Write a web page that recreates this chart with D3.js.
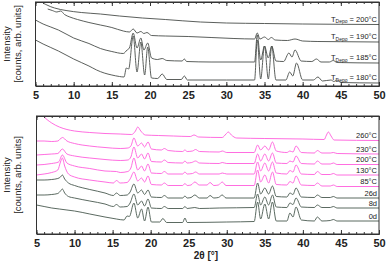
<!DOCTYPE html>
<html>
<head>
<meta charset="utf-8">
<script src="https://cdn.jsdelivr.net/npm/d3@7"></script>
<style>
  body { margin: 0; background: #fff; }
  svg { display: block; font-family: "Liberation Sans", Arial, sans-serif; }
</style>
</head>
<body>
<svg id="chart" width="386" height="266"></svg>
<script>
// Axis ticks (2θ in degrees)
const majorTicks = [5, 10, 15, 20, 25, 30, 35, 40, 45, 50];
const minorTicks = d3.range(5, 51, 1);

// Top panel: deposition temperature series, [2θ, intensity]
const topLabels = ["200°C", "190°C", "185°C", "180°C"];
const depo200 = [[5.5,90],[5.9,84],[6.5,81],[7.5,78],[9,75.5],[11,73.5],[13.5,72],[16,70],[19,68],[22,66.5],[26.6,64],[30,63],[35,62.5],[40,62],[45,61.7],[50,61.5]];
const depo190 = [[6.6,77],[7.2,75.5],[7.8,74],[8.3,75],[8.8,71.5],[9.5,69],[10.5,66.5],[12,63.5],[13.5,61],[15,58.5],[16.5,55],[17.3,54],[17.8,57],[18.3,53],[18.8,54.5],[19.2,52.5],[19.6,53.5],[20.2,50.5],[22,50],[25,49.5],[28,48.5],[31,47.5],[33.7,47],[34.05,53],[34.4,47],[35.0,49],[35.5,46.5],[35.9,48.5],[36.4,46],[38,45.5],[39,47],[40,45],[42,44.5],[45,44.3],[50,44]];
const depo185 = [[5,66],[6,62],[7,59],[8,56],[10,48],[12,42.5],[13.5,37.5],[15,34.5],[16.5,32.5],[17.0,36],[17.3,38],[17.8,53],[18.3,38],[18.8,48],[19.2,36],[19.7,43],[20.2,28],[21,26.5],[21.6,27.5],[22.2,25.5],[24.2,25],[24.5,27],[24.8,24.5],[28,24],[33.7,24],[34.05,51],[34.5,26],[35.0,40],[35.5,28],[35.95,40],[36.5,25],[37.5,24.5],[38.2,33],[38.6,29],[39.0,36],[39.8,25],[41.2,24.5],[41.8,27],[42.4,24],[43.5,24],[44,25.5],[44.5,23.5],[50,23]];
const depo180 = [[5,46],[6,42],[7,38.5],[8,35],[9,31],[10,27],[11,23.5],[12,20],[13,16],[14,13],[15,11],[16,9.5],[16.6,9],[16.9,18],[17.2,17],[17.8,50],[18.3,14],[18.8,44],[19.3,11],[19.7,39],[20.2,8],[21,7.5],[21.6,12],[22.2,6.5],[24.1,6.5],[24.5,10],[24.9,6],[30,6],[33.7,6],[34.05,46],[34.5,7],[35.0,40],[35.5,7],[35.95,40],[36.5,6],[37.8,6],[38.3,14],[38.7,10],[39.2,23],[40,6],[41.4,6],[42,9],[42.6,5],[43.7,6],[44.1,4.5],[44.5,6],[45,3.5],[50,3]];
const topSeries = [depo200, depo190, depo185, depo180];

// Bottom panel: annealing / ageing series, [2θ, intensity]
const bottomLabels = ["260°C", "230°C", "200°C", "130°C", "85°C", "26d", "8d", "0d"];
const anneal260 = [[5,126],[6,117],[7,111],[8,107],[9,104.5],[10,103],[12,101.5],[14,100.5],[16,100],[17.5,99.5],[18.0,103],[18.3,107],[18.7,103],[19.3,99],[21,98.5],[23,98],[25.2,97.5],[25.7,99],[26.3,97],[29.4,96.5],[29.9,100],[30.2,102],[30.6,99],[31.3,96],[35,95.5],[40,95],[42.8,94.5],[43.1,99],[43.35,102],[43.7,98],[44.1,94],[50,93.5]];
const anneal230 = [[5,93],[6,93],[7,92.5],[7.8,93],[8.4,96.5],[9,93],[10,90.5],[12,88],[14,86.5],[16,85.5],[17.0,86],[17.4,88],[17.8,96],[18.3,88],[18.8,91],[19.2,87],[19.65,92],[20.1,85],[21.4,84],[21.8,85.5],[22.3,83.5],[24.2,82.5],[24.5,84],[24.8,82.5],[25.5,83],[25.9,84.5],[26.4,82.5],[29,82],[29.4,83],[30,81.5],[33.6,81.5],[34.05,89],[34.45,84],[35.0,88],[35.5,84],[36.0,92],[36.5,83],[37.9,81.5],[38.3,83],[38.7,82],[39.1,88],[39.8,81.5],[41.5,81],[41.9,83.5],[42.5,81],[43.6,81],[44,81.5],[44.5,80.5],[50,80]];
const anneal200 = [[5,79],[6,79.5],[7,80],[7.8,80.5],[8.4,85],[9,80],[10,78],[12,76],[14,74.5],[16,73.5],[17.0,74],[17.4,77],[17.8,87],[18.3,76],[18.8,80],[19.2,75],[19.65,81],[20.1,72.5],[21.4,72],[21.8,74],[22.3,71.5],[24.2,71],[24.5,73],[24.8,71],[25.4,71.5],[25.9,73],[26.4,71],[29,70.5],[29.4,71.5],[30,70.5],[33.6,70.5],[34.05,80],[34.45,73],[35.0,80],[35.5,73],[36.0,81],[36.5,71],[37.9,70.5],[38.3,73],[38.7,72],[39.1,78],[39.8,70.5],[41.5,70],[41.9,73],[42.5,70],[43.6,70],[44,71],[44.5,69.5],[50,69.5]];
const anneal130 = [[5,69],[6,69.5],[7,70.5],[7.9,72],[8.4,79],[9,71],[10,68],[12,65.5],[14,63],[15.5,62.5],[16,61.5],[17.0,62.5],[17.4,66],[17.8,76],[18.3,64],[18.8,68],[19.2,63],[19.65,70],[20.1,61],[21.4,60.5],[21.8,62.5],[22.3,60],[24.2,60],[24.5,62],[24.8,60],[25.5,60.5],[25.9,62],[26.4,60],[29,60],[29.4,61],[30,60],[33.6,60],[34.05,72],[34.45,63],[35.0,71],[35.5,63],[36.0,72],[36.5,61],[37.9,60],[38.3,63.5],[38.7,62],[39.1,69],[39.8,60],[41.5,59.5],[41.9,62.5],[42.5,59.5],[43.6,59.5],[44,60.5],[44.5,59],[50,59]];
const anneal85 = [[5,59],[6,60],[7,61.5],[7.8,64],[8.15,72],[8.4,76],[8.7,68],[9.2,60],[10,57],[12,54],[14,52],[15.1,51],[15.5,53.5],[16,51],[16.9,51.5],[17.3,55],[17.8,62],[18.3,53],[18.8,56],[19.2,52],[19.65,58],[20.1,49.5],[21.4,49],[21.8,51],[22.3,48.5],[24.2,48.5],[24.5,50.5],[24.8,48.5],[25.3,49],[25.8,52],[26.4,49],[27.4,49],[27.8,51.5],[28.3,48.5],[28.9,49],[29.4,52],[29.9,48.5],[33.6,48.5],[34.05,64],[34.45,52],[35.0,59],[35.5,51],[36.0,62],[36.5,49.5],[37.9,49],[38.3,52.5],[38.7,51],[39.1,58],[39.8,49],[41.5,48.5],[41.9,51],[42.5,48],[43.6,48],[44,49],[44.5,47.5],[50,47.5]];
const age26 = [[5,54],[6,54],[7,54.5],[7.8,55.5],[8.15,57],[8.4,59],[8.7,55],[9.2,51],[10,48.5],[12,44.5],[14,41],[15.1,38.5],[15.5,41],[16,38.5],[16.9,39],[17.3,42],[17.8,50],[18.3,41],[18.8,44],[19.2,39.5],[19.65,44],[20.1,37],[21.4,36.5],[21.8,38.5],[22.3,36],[24.2,36],[24.5,38],[24.8,36],[25.3,36.5],[25.8,39],[26.4,36],[27.4,36],[27.8,38.5],[28.3,36],[28.9,36.5],[29.4,39],[29.9,36],[33.6,36],[34.05,51],[34.45,40],[35.0,46],[35.5,40],[36.0,48],[36.5,37.5],[37.9,37],[38.3,41],[38.7,39.5],[39.1,46],[39.8,37],[41.5,36.5],[41.9,39],[42.5,36.5],[43.6,36.5],[44,37.5],[44.5,36],[50,36]];
const age8 = [[5,39],[6,39],[7,39.5],[7.8,40.5],[8.15,43],[8.4,45],[8.7,41],[9.2,37.5],[10,36],[12,33],[14,30],[15.1,27.5],[15.5,29.5],[16,27],[16.9,27.5],[17.3,31],[17.8,40],[18.3,29],[18.8,33],[19.2,28],[19.65,35],[20.1,26],[21.4,25.5],[21.8,27.5],[22.3,25.5],[24.2,25.5],[24.5,27.5],[24.8,25.5],[25.8,26.5],[26.4,25.5],[29,26],[33.6,26.5],[34.05,40],[34.45,29],[35.0,37],[35.5,29],[36.0,39],[36.5,27],[37.9,26.5],[38.3,31],[38.7,29.5],[39.1,36],[39.8,27],[41.5,26.5],[41.9,29],[42.5,26.5],[43.6,26.5],[44,27.5],[44.5,26],[50,26]];
const age0 = [[5,29],[6,27.5],[7,26],[8,25],[9,24],[10,23],[12,20],[14,17],[15.5,15],[16.5,14],[16.9,18],[17.2,17.5],[17.8,31],[18.3,16],[18.8,25],[19.2,13],[19.65,27],[20.1,12],[21.2,12],[21.6,15.5],[22.1,11.5],[24.2,11.5],[24.5,16],[24.8,11.5],[30,12],[33.6,12.5],[34.05,32],[34.45,15],[35.0,30],[35.5,15],[36.0,32],[36.5,13],[37.9,13],[38.3,21],[38.7,17],[39.1,27],[39.8,14],[41.5,13],[41.9,17],[42.5,13],[43.6,13.5],[44,14.5],[44.5,13],[50,13]];
const bottomSeries = [anneal260, anneal230, anneal200, anneal130, anneal85, age26, age8, age0];
const bottomColors = ["pink", "pink", "pink", "pink", "pink", "dark", "dark", "dark"];

const colors = { pink: "#ff5edc", dark: "#48594f", grey: "#484d4a" };

const svg = d3.select("#chart");

function drawPanel(opts) {
  const { left, right, top, bottom, yMax, series, id } = opts;
  const x = d3.scaleLinear().domain([5, 50]).range([left, right]);
  const y = d3.scaleLinear().domain([0, yMax]).range([bottom, top]);
  const g = svg.append("g");

  g.append("clipPath").attr("id", id)
    .append("rect")
    .attr("x", left).attr("y", top)
    .attr("width", right - left).attr("height", bottom - top);

  const line = d3.line()
    .x(d => x(d[0]))
    .y(d => y(d[1]))
    .curve(d3.curveMonotoneX);

  g.append("g").attr("clip-path", `url(#${id})`)
    .selectAll("path")
    .data(series)
    .join("path")
    .attr("d", d => line(d.values))
    .attr("fill", "none")
    .attr("stroke", d => d.color)
    .attr("stroke-width", 0.9);

  // frame
  g.append("rect")
    .attr("x", left).attr("y", top)
    .attr("width", right - left).attr("height", bottom - top)
    .attr("fill", "none")
    .attr("stroke", "#333")
    .attr("stroke-width", 1);

  // bottom axis with inward ticks
  const axB = g.append("g").attr("transform", `translate(0,${bottom})`)
    .call(d3.axisBottom(x).tickValues(majorTicks).tickSizeInner(-4).tickSizeOuter(0).tickPadding(5));
  axB.selectAll("text")
    .attr("font-size", 11).attr("font-weight", "bold")
    .attr("font-family", "Liberation Sans, Arial, sans-serif")
    .attr("fill", "#222");
  g.append("g").attr("transform", `translate(0,${bottom})`)
    .call(d3.axisBottom(x).tickValues(minorTicks).tickSizeInner(-2).tickSizeOuter(0).tickFormat(""));
  // top axis ticks pointing down
  g.append("g").attr("transform", `translate(0,${top})`)
    .call(d3.axisTop(x).tickValues(majorTicks).tickSizeInner(-4).tickSizeOuter(0).tickFormat(""));
  g.append("g").attr("transform", `translate(0,${top})`)
    .call(d3.axisTop(x).tickValues(minorTicks).tickSizeInner(-2).tickSizeOuter(0).tickFormat(""));
  g.selectAll(".domain").attr("stroke", "#333");
  g.selectAll(".tick line").attr("stroke", "#333");

  // y label
  const cy = (top + bottom) / 2;
  g.append("text")
    .attr("transform", `translate(10,${cy}) rotate(-90)`)
    .attr("text-anchor", "middle")
    .attr("font-size", 9.5).attr("fill", "#222")
    .text("Intensity");
  g.append("text")
    .attr("transform", `translate(21,${cy}) rotate(-90)`)
    .attr("text-anchor", "middle")
    .attr("font-size", 9.5).attr("fill", "#222")
    .text("[counts, arb. units]");

  return { x, y };
}

// top panel
const topData = topSeries.map((v, i) => ({ values: v, color: colors.grey, label: topLabels[i] }));
const tp = drawPanel({ left: 35.5, right: 379, top: 2, bottom: 86, yMax: 84, series: topData, id: "clipTop" });
topData.forEach(d => {
  const last = d.values[d.values.length - 1];
  const t = svg.append("text")
    .attr("x", 377).attr("y", tp.y(last[1]) - 3)
    .attr("text-anchor", "end")
    .attr("font-size", 7.5).attr("fill", "#222");
  t.append("tspan").text("T");
  t.append("tspan").attr("font-size", 5).attr("dy", 1.5).text("Depo");
  t.append("tspan").attr("dy", -1.5).text(" = " + d.label);
});

// bottom panel
const botData = bottomSeries.map((v, i) => ({ values: v, color: colors[bottomColors[i]], label: bottomLabels[i] }));
const bp = drawPanel({ left: 36.5, right: 379, top: 116, bottom: 234, yMax: 118, series: botData, id: "clipBot" });
botData.forEach(d => {
  const last = d.values[d.values.length - 1];
  svg.append("text")
    .attr("x", 377).attr("y", bp.y(last[1]) - 2.5)
    .attr("text-anchor", "end")
    .attr("font-size", 7.5).attr("fill", "#222")
    .text(d.label);
});

// x label
svg.append("text")
  .attr("x", 206).attr("y", 259)
  .attr("text-anchor", "middle")
  .attr("font-size", 10).attr("font-weight", "bold").attr("fill", "#222")
  .text("2θ [°]");
</script>
</body>
</html>
